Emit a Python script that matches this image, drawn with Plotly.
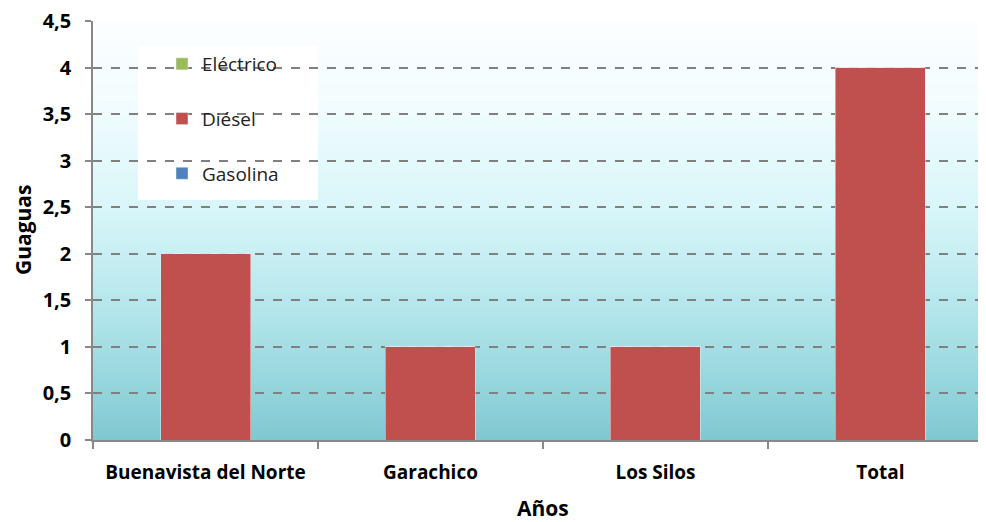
import plotly.graph_objects as go

categories = ["Buenavista del Norte", "Garachico", "Los Silos", "Total"]
gasolina = [0, 0, 0, 0]
diesel = [2, 1, 1, 4]
electrico = [0, 0, 0, 0]
y_ticks = [0, 0.5, 1, 1.5, 2, 2.5, 3, 3.5, 4, 4.5]

FONT = "Open Sans"

fig = go.Figure()
fig.add_trace(go.Bar(name="Eléctrico", x=categories, y=electrico, marker_color="#9BBB59", legendgroup="e"))
fig.add_trace(go.Bar(name="Diésel", x=categories, y=diesel, marker_color="#C0504D", legendgroup="d"))
fig.add_trace(go.Bar(name="Gasolina", x=categories, y=gasolina, marker_color="#4F81BD", legendgroup="g"))

# gradient background bands
stops = [(0.0, (252, 254, 255)), (0.2, (242, 252, 254)), (0.45, (216, 246, 249)),
         (0.7, (178, 229, 235)), (1.0, (128, 201, 209))]
def col(t):
    for (a, ca), (b, cb) in zip(stops[:-1], stops[1:]):
        if a <= t <= b:
            f = (t - a) / (b - a)
            return "rgb(%d,%d,%d)" % tuple(round(ca[i] + (cb[i] - ca[i]) * f) for i in range(3))
    return "rgb(%d,%d,%d)" % stops[-1][1]

shapes = []
N = 100
for i in range(N):
    top = 1 - i / N
    bot = 1 - (i + 1) / N
    shapes.append(dict(type="rect", xref="paper", yref="paper", x0=0, x1=1, y0=bot, y1=min(1, top + 0.002),
                       fillcolor=col((i + 0.5) / N), line_width=0, layer="below"))
# legend box
shapes.append(dict(type="rect", xref="paper", yref="paper",
                   x0=(138 - 93) / 893, x1=(318 - 93) / 893,
                   y0=(440 - 200) / 419, y1=(440 - 45) / 419,
                   fillcolor="white", line_width=0, layer="between"))

annotations = [
    dict(text="<b>Guaguas</b>", xref="paper", yref="paper", x=(15 - 85) / 893, y=(440 - 230) / 419,
         textangle=-90, showarrow=False, xanchor="center", yanchor="middle",
         font=dict(family=FONT, size=21, color="black")),
    dict(text="<b>Años</b>", xref="paper", yref="paper", x=(543 - 93) / 893, y=(440 - 508) / 419,
         showarrow=False, xanchor="center", yanchor="middle",
         font=dict(family=FONT, size=21, color="black")),
]

fig.update_layout(
    width=986, height=522,
    margin=dict(l=85, r=8, t=13, b=90, autoexpand=False),
    paper_bgcolor="white", plot_bgcolor="rgba(0,0,0,0)",
    barmode="stack", bargap=0.6,
    separators=",.",
    font=dict(family=FONT, color="black"),
    shapes=shapes,
    annotations=annotations,
    showlegend=True,
    legend=dict(x=(162 - 93) / 893, y=(440 - 45) / 419, xanchor="left", yanchor="top",
                bgcolor="rgba(0,0,0,0)", traceorder="grouped", tracegroupgap=27,
                font=dict(family=FONT, size=19, color="#222")),
)
fig.update_xaxes(
    type="category", range=[-0.5, 3.469], tickson="boundaries",
    ticks="outside", ticklen=7, tickcolor="#888", tickwidth=1.5,
    showline=True, linecolor="#888", linewidth=1.5, showgrid=False,
    ticklabelstandoff=14,
    tickfont=dict(family=FONT, size=19, color="black", weight="bold"),
)
fig.update_yaxes(
    range=[0, 4.5], tickvals=y_ticks, ticklabeloverflow="allow",
    ticks="outside", ticklen=6, tickcolor="#888", tickwidth=1.5,
    showline=True, linecolor="#888", linewidth=1.5,
    showgrid=True, gridcolor="#808080", griddash="dash", gridwidth=1.5,
    zeroline=False, ticklabelstandoff=10,
    tickfont=dict(family=FONT, size=20, color="black", weight="bold"),
)

fig.write_html("out.html")
